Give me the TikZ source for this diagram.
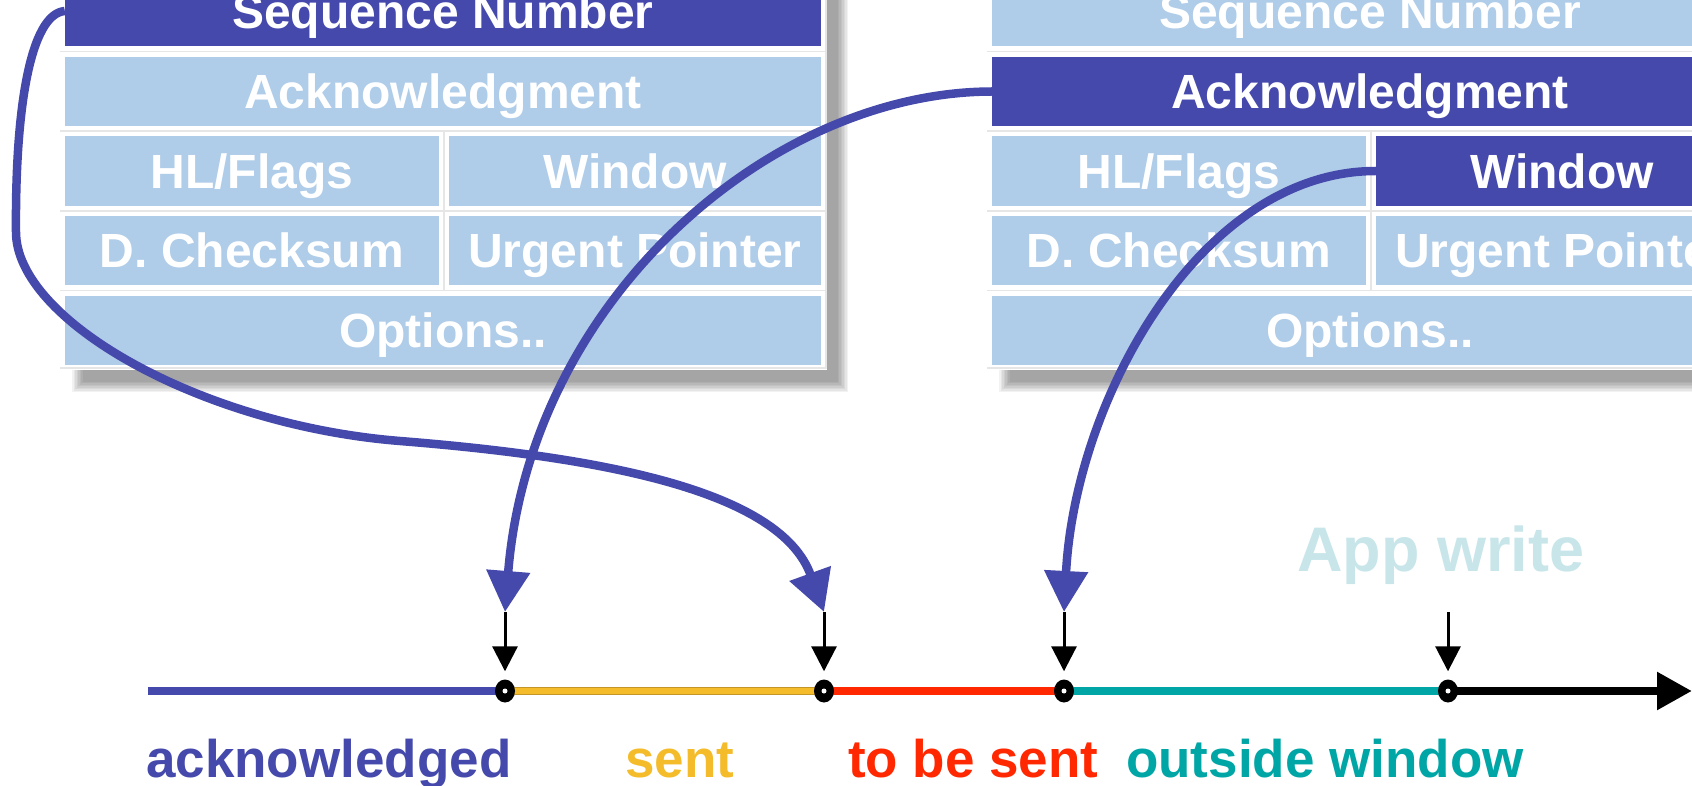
\documentclass[tikz,border=0pt]{standalone}
\usepackage{fontspec}
\setmainfont{Liberation Sans}
\usetikzlibrary{arrows.meta}
\definecolor{tblue}{RGB}{69,73,171}
\definecolor{cellblue}{RGB}{175,204,233}
\definecolor{gridc}{RGB}{230,230,230}
\definecolor{yellowc}{RGB}{244,188,42}
\definecolor{yellowd}{RGB}{196,150,40}
\definecolor{redc}{RGB}{255,40,0}
\definecolor{tealc}{RGB}{0,166,166}
\definecolor{appc}{RGB}{200,230,234}
\tikzset{
 cellbox/.style={fill=cellblue, minimum height=69.5pt, inner sep=0pt, text=white,
   font=\fontsize{48}{50}\selectfont\bfseries, text height=34.3pt, text depth=0pt},
 darkcell/.style={cellbox, fill=tblue},
 widecell/.style={minimum width=756pt},
 lcol/.style={minimum width=374pt},
 rcol/.style={minimum width=372pt},
 bluecurve/.style={draw=tblue, line width=8.5pt, -{Triangle[length=41pt,width=42pt]}},
 tickarrow/.style={draw=black, line width=3pt, -{Triangle[length=25pt,width=25pt]}, shorten >=8pt},
 axisline/.style={line width=8.5pt},
 dotnode/.style={ellipse, fill=black, minimum width=20pt, minimum height=23pt, inner sep=0pt},
 lab/.style={inner sep=0pt, anchor=base west, font=\fontsize{53}{56}\selectfont\bfseries},
 gridline/.style={draw=gridc, line width=1.5pt},
 framebox/.style={fill=white},
}
\usetikzlibrary{shapes.geometric}
\begin{document}
\begin{tikzpicture}[x=1pt,y=-1pt]
\clip (0,0) rectangle (1692,786);
\fill[white] (0,0) rectangle (1692,786);
% soft shadows
\foreach \i in {0,...,7}{
  \fill[black,opacity=0.052] (72+1.5*\i,-20) rectangle (848-1.5*\i,392-1.5*\i);
  \fill[black,opacity=0.052] (999+1.5*\i,-20) rectangle (1775-1.5*\i,392-1.5*\i);
}
% table frames
\path[framebox] (60,-30) rectangle (827,370);
\path[framebox] (987,-30) rectangle (1775,370);
% faint grid lines
\foreach \yy in {51.5,131,211,290.5,368}{
  \draw[gridline] (60,\yy) -- (827,\yy);
  \draw[gridline] (987,\yy) -- (1775,\yy);
}
\draw[gridline] (826,-30) -- (826,368);
\draw[gridline] (444,131) -- (444,290.5);
\draw[gridline] (1371,131) -- (1371,290.5);
% left table
\node[darkcell, widecell] (lseq) at (443,11) {Sequence Number};
\node[cellbox, widecell] (lack) at (443,91.5) {Acknowledgment};
\node[cellbox, lcol] (lhl) at (252,171) {HL/Flags};
\node[cellbox, rcol] (lwin) at (635,171) {Window};
\node[cellbox, lcol] (lchk) at (252,250.5) {D. Checksum};
\node[cellbox, rcol] (lurg) at (635,250.5) {Urgent Pointer};
\node[cellbox, widecell] (lopt) at (443,330.5) {Options..};
% right table
\node[cellbox, widecell] (rseq) at (1370,11) {Sequence Number};
\node[darkcell, widecell] (rack) at (1370,91.5) {Acknowledgment};
\node[cellbox, lcol] (rhl) at (1179,171) {HL/Flags};
\node[darkcell, rcol] (rwin) at (1562,171) {Window};
\node[cellbox, lcol] (rchk) at (1179,250.5) {D. Checksum};
\node[cellbox, rcol] (rurg) at (1562,250.5) {Urgent Pointer};
\node[cellbox, widecell] (ropt) at (1370,330.5) {Options..};
% axis positions
\coordinate (s) at (148,691);
\coordinate (q1) at (505,691);
\coordinate (q2) at (824,691);
\coordinate (q3) at (1064,691);
\coordinate (q4) at (1448,691);
\coordinate (e) at (1692,691);
\coordinate (b1) at (505,612);
\coordinate (b2) at (824,612);
\coordinate (b3) at (1064,612);
\coordinate (b4) at (1448,612);
% axis segments
\draw[axisline, tblue] (s) -- (q1);
\draw[axisline, yellowd] (q1) -- (q2);
\draw[line width=6pt, yellowc] (q1) -- (q2);
\draw[axisline, redc] (q2) -- (q3);
\draw[axisline, tealc] (q3) -- (q4);
\draw[axisline, black, -{Triangle[length=35pt,width=36pt]}] (q4) -- (e);
% points
\foreach \k in {1,2,3,4}{
  \node[dotnode] (p\k) at (q\k) {};
  \fill[white] (p\k.center) circle (2.5);
}
% tick arrows
\draw[tickarrow] (b1) -- (p1);
\draw[tickarrow] (b2) -- (p2);
\draw[tickarrow] (b3) -- (p3);
\draw[tickarrow] (b4) -- (p4);
% blue curved connectors
\draw[bluecurve] (lseq.west) .. controls (30,14) and (15,110) .. (16,232)
   .. controls (16,320) and (200,425) .. (400,441)
   .. controls (600,457) and (780,490) .. (b2);
\draw[bluecurve] (rack.west) .. controls (770,92) and (530,300) .. (b1);
\draw[bluecurve] (rwin.west) .. controls (1200,171) and (1075,400) .. (b3);
% labels
\node[lab, text=tblue] (tack) at (146,777) {acknowledged};
\node[lab, text=yellowc] (tsent) at (625,777) {sent};
\node[lab, text=redc] (ttbs) at (848,777) {to be sent};
\node[lab, text=tealc] (tout) at (1126,777) {outside window};
\node[inner sep=0pt, anchor=base west, font=\fontsize{63}{66}\selectfont\bfseries, text=appc] (tapp) at (1297,571) {App write};
\end{tikzpicture}
\end{document}
